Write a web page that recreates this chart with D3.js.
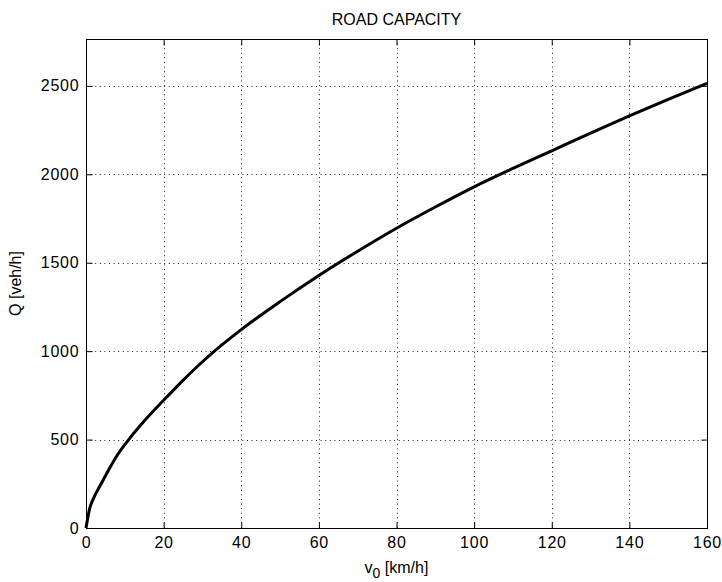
<!DOCTYPE html>
<html>
<head>
<meta charset="utf-8">
<script src="https://cdn.jsdelivr.net/npm/d3@7"></script>
<style>
  html, body { margin: 0; padding: 0; background: #ffffff; }
  svg { display: block; }
  text { font-family: "Liberation Sans", Arial, sans-serif; fill: #000; }
</style>
</head>
<body>
<svg id="chart" width="722" height="582"></svg>
<script>
// Speed v0 [km/h] and the resulting road capacity Q [veh/h]
const speed    = [0, 1, 2, 4, 6, 8, 11, 15, 20, 25, 30, 35, 40, 50, 60, 70, 80, 90, 100, 110, 120, 130, 140, 150, 160];
const capacity = [0, 115, 170, 254, 335, 410, 500, 605, 722, 835, 940, 1035, 1122, 1280, 1428, 1565, 1695, 1815, 1929, 2033, 2133, 2233, 2330, 2424, 2514];

const xTicks = [0, 20, 40, 60, 80, 100, 120, 140, 160];
const yTicks = [0, 500, 1000, 1500, 2000, 2500];

const titleText = "ROAD CAPACITY";
const yLabelText = "Q [veh/h]";

const svg = d3.select("#chart");
const plotL = 86, plotR = 707, plotT = 39, plotB = 528;

const x = d3.scaleLinear().domain([0, 160]).range([plotL, plotR]);
const y = d3.scaleLinear().domain([0, 2765]).range([plotB, plotT]);

// dotted grid
const grid = svg.append("g").attr("stroke", "#222").attr("stroke-width", 1)
  .attr("stroke-dasharray", "1,3.6");
grid.selectAll("line.gx").data(xTicks.slice(1, -1)).join("line")
  .attr("x1", d => Math.round(x(d)) + 0.5).attr("x2", d => Math.round(x(d)) + 0.5)
  .attr("y1", plotT).attr("y2", plotB);
grid.selectAll("line.gy").data(yTicks.slice(1)).join("line")
  .attr("x1", plotL).attr("x2", plotR)
  .attr("y1", d => Math.round(y(d)) + 0.5).attr("y2", d => Math.round(y(d)) + 0.5);

// axes with inward ticks on all four sides
const tick = 6;
const fontSize = 16;
const fmt = d3.format("d");
const axB = svg.append("g").attr("transform", `translate(0,${plotB + 0.5})`)
  .call(d3.axisBottom(x).tickValues(xTicks).tickFormat(fmt).tickSizeInner(-tick).tickSizeOuter(0).tickPadding(8));
const axT = svg.append("g").attr("transform", `translate(0,${plotT + 0.5})`)
  .call(d3.axisTop(x).tickValues(xTicks).tickSizeInner(-tick).tickSizeOuter(0).tickFormat(""));
const axL = svg.append("g").attr("transform", `translate(${plotL + 0.5},0)`)
  .call(d3.axisLeft(y).tickValues(yTicks).tickFormat(fmt).tickSizeInner(-tick).tickSizeOuter(0).tickPadding(7));
const axR = svg.append("g").attr("transform", `translate(${plotR + 0.5},0)`)
  .call(d3.axisRight(y).tickValues(yTicks).tickSizeInner(-tick).tickSizeOuter(0).tickFormat(""));

[axB, axT, axL, axR].forEach(a => {
  a.select(".domain").remove();
  a.selectAll(".tick line").attr("stroke", "#000");
  a.selectAll("text").attr("font-size", fontSize)
    .attr("font-family", "Liberation Sans, Arial, sans-serif")
    .attr("letter-spacing", "0.8px").attr("fill", "#000");
});
axB.selectAll("text").attr("dy", "0.71em");

// plot box
svg.append("rect")
  .attr("x", plotL + 0.5).attr("y", plotT + 0.5)
  .attr("width", plotR - plotL).attr("height", plotB - plotT)
  .attr("fill", "none").attr("stroke", "#000").attr("stroke-width", 1);

// capacity curve
const line = d3.line()
  .x((d, i) => x(speed[i]))
  .y(d => y(d))
  .curve(d3.curveMonotoneX);
svg.append("path")
  .datum(capacity)
  .attr("d", line)
  .attr("fill", "none")
  .attr("stroke", "#000")
  .attr("stroke-width", 3)
  .attr("stroke-linejoin", "round");

// title
svg.append("text")
  .attr("x", (plotL + plotR) / 2).attr("y", 25)
  .attr("text-anchor", "middle").attr("font-size", 16)
  .text(titleText);

// x label with subscript
const xl = svg.append("text")
  .attr("x", (plotL + plotR) / 2).attr("y", 573)
  .attr("text-anchor", "middle").attr("font-size", 16);
xl.append("tspan").text("v");
xl.append("tspan").attr("dy", 5).attr("font-size", 14).text("0");
xl.append("tspan").attr("dy", -5).text(" [km/h]");

// y label
svg.append("text")
  .attr("transform", `translate(21,${(plotT + plotB) / 2}) rotate(-90)`)
  .attr("text-anchor", "middle").attr("font-size", 16)
  .text(yLabelText);
</script>
</body>
</html>
